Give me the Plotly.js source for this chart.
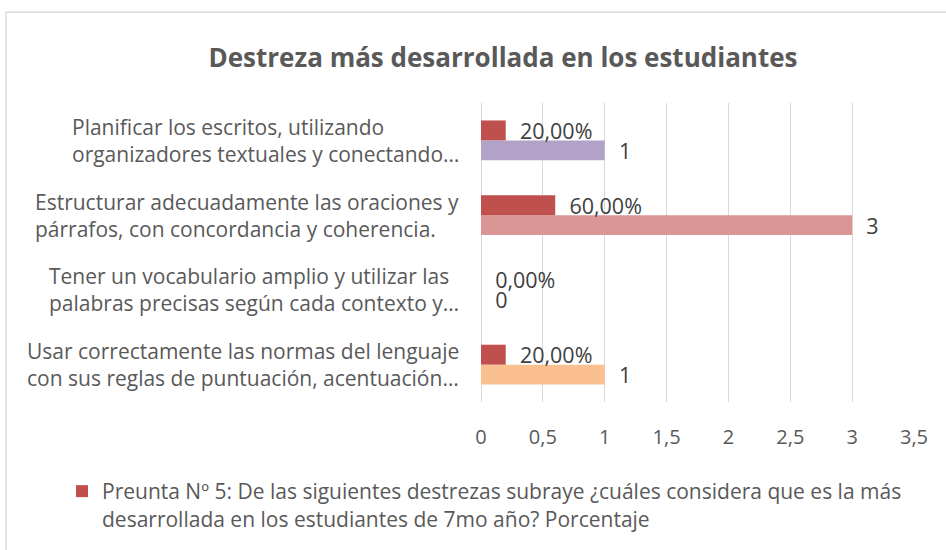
<!DOCTYPE html>
<html>
<head>
<meta charset="utf-8">
<script src="https://cdn.plot.ly/plotly-3.0.1.min.js"></script>
<style>html,body{margin:0;padding:0;background:#fff;}#chart{width:946px;height:550px;}</style>
</head>
<body>
<div id="chart"></div>
<script>
const categories = [
  'Usar correctamente las normas del lenguaje<br>con sus reglas de puntuación, acentuación…',
  'Tener un vocabulario amplio y utilizar las<br>palabras precisas según cada contexto y…',
  'Estructurar adecuadamente las oraciones y<br>párrafos, con concordancia y coherencia.',
  'Planificar los escritos, utilizando<br>organizadores textuales y conectando…'
];
const countValues = [1, 0, 3, 1];
const percentValues = [0.2, 0, 0.6, 0.2];
const countColors = ['#FAC090', '#95B3D7', '#D99694', '#B3A2C7'];
const percentColor = '#C0504D';
const legendName = 'Preunta Nº 5: De las siguientes destrezas subraye ¿cuáles considera que es la más<br>desarrollada en los estudiantes de 7mo año? Porcentaje';
const xTickVals = [0, 0.5, 1, 1.5, 2, 2.5, 3, 3.5];

const W = 946, H = 550;
const mL = 481, mR = 32, mT = 103, mB = 147;
const plotW = W - mL - mR, plotH = H - mT - mB;
const pxX = p => (p - mL) / plotW;
const pxY = p => (H - mB - p) / plotH;

const pad = '\u00a0\u00a0';
const fmtPct = v => pad + (v * 100).toFixed(2).replace('.', ',') + '%';
const fmtNum = v => pad + String(v).replace('.', ',');

const labelFont = {family: 'Open Sans, sans-serif', size: 21.5, color: '#404040'};

const traces = [
  {
    type: 'bar', orientation: 'h', name: 'count', showlegend: false,
    y: categories, x: countValues,
    marker: {color: countColors},
    text: countValues.map(fmtNum), textposition: 'outside',
    textfont: labelFont, constraintext: 'none', cliponaxis: false,
    hoverinfo: 'x+y'
  },
  {
    type: 'bar', orientation: 'h', name: legendName, showlegend: true,
    y: categories, x: percentValues,
    marker: {color: percentColor},
    text: percentValues.map(fmtPct), textposition: 'outside',
    textfont: labelFont, constraintext: 'none', cliponaxis: false,
    hoverinfo: 'x+y'
  }
];

const annotations = categories.map(c => ({
  xref: 'paper', yref: 'y', x: 0, y: c, xanchor: 'right', yanchor: 'middle',
  xshift: -20, align: 'left', showarrow: false, text: c,
  font: {family: 'Open Sans, sans-serif', size: 21, color: '#595959'}
}));

const layout = {
  width: W, height: H,
  margin: {l: mL, r: mR, t: mT, b: mB, pad: 0},
  paper_bgcolor: '#ffffff', plot_bgcolor: '#ffffff',
  separators: ',.',
  font: {family: 'Open Sans, sans-serif', size: 20, color: '#595959'},
  title: {
    text: '<b>Destreza más desarrollada en los estudiantes</b>',
    x: 503 / W, xanchor: 'center', xref: 'container',
    y: 1 - 58 / H, yanchor: 'middle', yref: 'container',
    font: {family: 'Open Sans, sans-serif', size: 26, color: '#595959'}
  },
  barmode: 'group', bargap: 0.467, bargroupgap: 0,
  xaxis: {
    range: [0, 3.5], tickvals: xTickVals,
    showgrid: true, gridcolor: '#D9D9D9', gridwidth: 1,
    zeroline: true, zerolinecolor: '#D9D9D9', zerolinewidth: 1,
    showline: false, ticks: 'outside', ticklen: 17, tickcolor: 'rgba(0,0,0,0)',
    tickfont: {family: 'Open Sans, sans-serif', size: 20, color: '#595959'},
    fixedrange: true
  },
  yaxis: {
    type: 'category', categoryorder: 'array', categoryarray: categories,
    showticklabels: false, showgrid: false, zeroline: false, showline: false,
    fixedrange: true
  },
  showlegend: true,
  legend: {
    x: pxX(62), xanchor: 'left', y: pxY(471), yanchor: 'top',
    font: {family: 'Open Sans, sans-serif', size: 21, color: '#595959'},
    bgcolor: 'rgba(0,0,0,0)', valign: 'top'
  },
  annotations: annotations,
  shapes: [{
    type: 'rect', xref: 'paper', yref: 'paper',
    x0: pxX(6), x1: pxX(960), y0: pxY(12), y1: pxY(570),
    line: {color: '#D9D9D9', width: 1.5}, fillcolor: 'rgba(0,0,0,0)', layer: 'below'
  }]
};

Plotly.newPlot('chart', traces, layout, {displayModeBar: false, staticPlot: true});
</script>
</body>
</html>
